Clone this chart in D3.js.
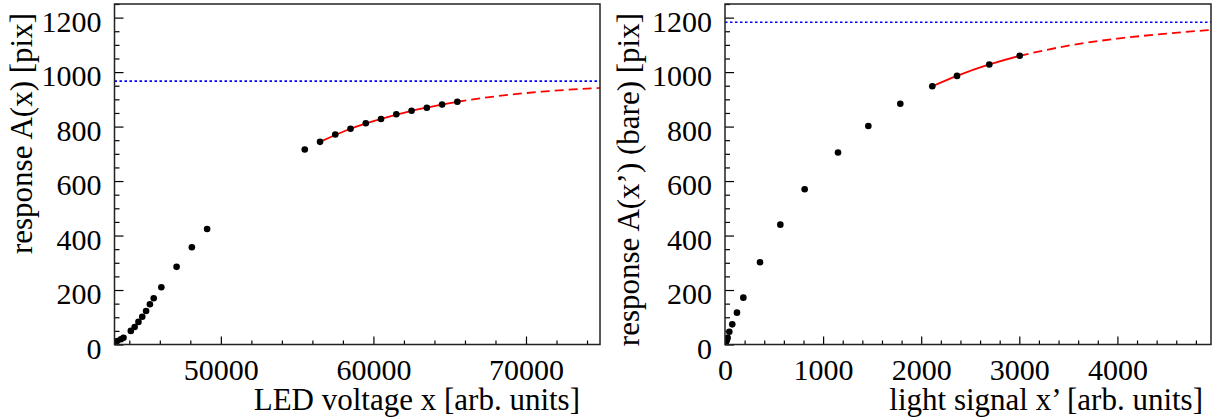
<!DOCTYPE html>
<html><head><meta charset="utf-8">
<script src="https://cdn.jsdelivr.net/npm/d3@7"></script>
<style>
html,body{margin:0;padding:0;background:#fff;}
</style></head>
<body>
<svg id="c" width="1220" height="419"></svg>
<script>
// ---------- data ----------
const leftX = [43050, 43200, 43450, 43620, 44100, 44350, 44600, 44850, 45100, 45350, 45600, 46100, 47100, 48100, 49100,
               55500, 56500, 57500, 58500, 59500, 60500, 61500, 62500, 63500, 64500, 65500];
const leftY = [8, 13, 19, 25, 50, 64, 83, 102, 123, 148, 170, 210, 285, 357, 424,
               716, 744, 771, 792, 812, 828, 845, 858, 869, 881, 891];
const leftFitX = [56500, 58500, 60500, 62500, 65500];
const leftFitY = [744, 792, 828, 858, 891];
const leftExtX = [65500, 68000, 71000, 74850];
const leftExtY = [891, 911, 928, 942];
const leftSat = 967;

const rightX = [2, 5, 10, 18, 27, 44, 74, 122, 187, 357, 564, 812, 1152, 1461, 1787, 2113, 2365, 2694, 3004];
const rightY = [2, 5, 9, 16, 25, 47, 74, 117, 172, 302, 440, 570, 705, 802, 884, 948, 986, 1028, 1060];
const rightFitX = [2113, 2365, 2694, 3004];
const rightFitY = [948, 986, 1028, 1060];
const rightExtX = [3004, 3500, 4000, 4500, 4950];
const rightExtY = [1060, 1097, 1123, 1141, 1155];
const rightSat = 1183;

const yTicks = [0, 200, 400, 600, 800, 1000, 1200];
const leftXTicks = [50000, 60000, 70000];
const rightXTicks = [0, 1000, 2000, 3000, 4000];

const leftXTitle = "LED voltage x [arb. units]";
const leftYTitle = "response A(x) [pix]";
const rightXTitle = "light signal x\u2019 [arb. units]";
const rightYTitle = "response A(x\u2019) (bare) [pix]";

// ---------- drawing ----------
const svg = d3.select("#c");
const FS = 30;
const FONT = "'Liberation Serif', 'DejaVu Serif', serif";

function styleText(sel, size) {
  sel.style("font-family", FONT).style("font-size", size + "px").attr("fill", "#000");
}

function panel(cfg) {
  const {x0, x1, top, bottom, xDomain, xTicks, xMinor, data, fit, ext, sat, xTitle, xTitleEnd, yTitle, yTitleX, id} = cfg;
  const x = d3.scaleLinear().domain(xDomain).range([x0, x1]);
  const y = d3.scaleLinear().domain([0, 1250]).range([bottom, top]);
  const g = svg.append("g");

  g.append("clipPath").attr("id", id).append("rect")
    .attr("x", x0).attr("y", top).attr("width", x1 - x0).attr("height", bottom - top);

  // axes
  const yMinor = d3.range(0, 1251, 50).filter(v => v % 200 !== 0);
  const ax = g.append("g").attr("transform", `translate(0,${bottom})`)
    .call(d3.axisBottom(x).tickValues(xTicks).tickSize(-8).tickPadding(14).tickFormat(d3.format("d")));
  ax.select(".domain").remove();
  ax.attr("font-family", null).attr("font-size", null);
  styleText(ax.selectAll("text"), FS);
  const axm = g.append("g").attr("transform", `translate(0,${bottom})`)
    .call(d3.axisBottom(x).tickValues(xMinor).tickSize(-4).tickFormat(""));
  axm.select(".domain").remove();
  axm.selectAll("text").remove();

  const ay = g.append("g").attr("transform", `translate(${x0},0)`)
    .call(d3.axisLeft(y).tickValues(yTicks).tickSize(-9).tickPadding(13).tickFormat(d3.format("d")));
  ay.select(".domain").remove();
  ay.attr("font-family", null).attr("font-size", null);
  styleText(ay.selectAll("text"), FS);
  ay.selectAll("text").attr("dy", "0.46em");
  const aym = g.append("g").attr("transform", `translate(${x0},0)`)
    .call(d3.axisLeft(y).tickValues(yMinor).tickSize(-5).tickFormat(""));
  aym.select(".domain").remove();
  aym.selectAll("text").remove();
  g.selectAll(".tick line").attr("stroke", "#000").attr("stroke-width", 1.2);

  const plot = g.append("g").attr("clip-path", `url(#${id})`);

  // saturation line
  plot.append("line").attr("x1", x0).attr("x2", x1).attr("y1", y(sat)).attr("y2", y(sat))
    .attr("stroke", "#0000ff").attr("stroke-width", 1.6).attr("stroke-dasharray", "2.5,2.5");

  const line = d3.line().x(d => x(d[0])).y(d => y(d[1])).curve(d3.curveMonotoneX);
  plot.append("path").datum(ext).attr("d", line).attr("fill", "none")
    .attr("stroke", "#ff0000").attr("stroke-width", 1.8).attr("stroke-dasharray", "9,5");
  plot.append("path").datum(fit).attr("d", line).attr("fill", "none")
    .attr("stroke", "#ff0000").attr("stroke-width", 1.8);

  plot.selectAll("circle").data(data).enter().append("circle")
    .attr("cx", d => x(d[0])).attr("cy", d => y(d[1])).attr("r", 3.3).attr("fill", "#000");

  // frame
  g.append("rect").attr("x", x0).attr("y", top).attr("width", x1 - x0).attr("height", bottom - top)
    .attr("fill", "none").attr("stroke", "#222").attr("stroke-width", 1.5);

  // titles
  styleText(g.append("text").attr("x", xTitleEnd).attr("y", 410).attr("text-anchor", "end").text(xTitle), FS + 1);
  styleText(g.append("text").attr("transform", `translate(${yTitleX},13) rotate(-90)`).attr("text-anchor", "end").text(yTitle), FS + 1);
}

const zip = (a, b) => a.map((v, i) => [v, b[i]]);

panel({
  id: "clipL", x0: 114.5, x1: 600, top: 4, bottom: 344.5,
  xDomain: [43030, 74850], xTicks: leftXTicks,
  xMinor: d3.range(44000, 74851, 2000).filter(v => v % 10000 !== 0),
  data: zip(leftX, leftY), fit: zip(leftFitX, leftFitY), ext: zip(leftExtX, leftExtY), sat: leftSat,
  xTitle: leftXTitle, xTitleEnd: 580, yTitle: leftYTitle, yTitleX: 32
});
panel({
  id: "clipR", x0: 725, x1: 1211, top: 4, bottom: 344.5,
  xDomain: [0, 4954], xTicks: rightXTicks,
  xMinor: d3.range(200, 4954, 200).filter(v => v % 1000 !== 0),
  data: zip(rightX, rightY), fit: zip(rightFitX, rightFitY), ext: zip(rightExtX, rightExtY), sat: rightSat,
  xTitle: rightXTitle, xTitleEnd: 1203, yTitle: rightYTitle, yTitleX: 639
});
</script>
</body></html>
